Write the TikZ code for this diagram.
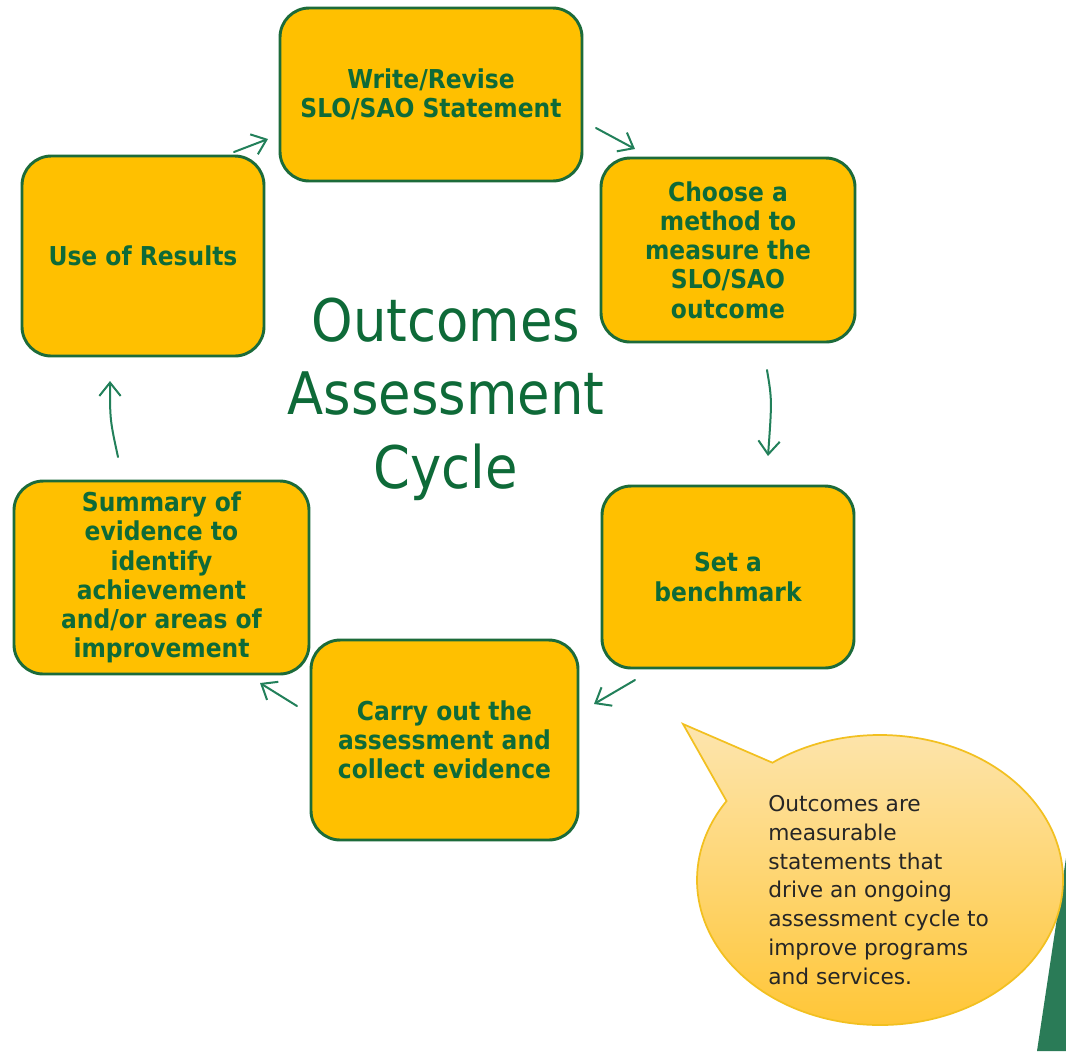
\documentclass[tikz,border=0pt]{standalone}
\usepackage{fontspec}
\setmainfont{DejaVu Sans Condensed}
\newfontfamily\notefont{DejaVu Sans}
\usetikzlibrary{arrows.meta}
\definecolor{boxfill}{HTML}{FFC000}
\definecolor{boxedge}{HTML}{1C6B3A}
\definecolor{txtgreen}{HTML}{0E6A38}
\definecolor{arrgreen}{HTML}{22805A}
\definecolor{darkgreen}{HTML}{2A7B57}
\definecolor{bubtop}{HTML}{FDE6B2}
\definecolor{bubbot}{HTML}{FFC42F}
\definecolor{bubedge}{HTML}{F2C020}
\tikzset{
  stepbox/.style={draw=boxedge, fill=boxfill, line width=2.2pt, rounded corners=22pt,
     align=center, text=txtgreen, font=\bfseries\fontsize{19.5}{21.9}\selectfont},
  cyc/.style={draw=arrgreen, line width=1.5pt, line cap=round,
     -{Straight Barb[length=10pt,width=16pt,line width=1.5pt]}},
}
\begin{document}
\begin{tikzpicture}[x=0.75pt,y=-0.75pt]
\useasboundingbox (0,0) rectangle (1066,1051);
\fill[white] (0,0) rectangle (1066,1051);

% boxes
\node[stepbox, minimum width=226.5pt, minimum height=129.75pt] (b1) at (431,94.5) {Write/Revise\\SLO/SAO Statement};
\node[stepbox, minimum width=190.5pt, minimum height=138pt] (b2) at (728,250) {Choose a\\method to\\measure the\\SLO/SAO\\outcome};
\node[stepbox, minimum width=181.5pt, minimum height=150pt] (b3) at (143,256) {Use of Results};
\node[stepbox, minimum width=189pt, minimum height=136.5pt] (b4) at (728,577) {Set a\\benchmark};
\node[stepbox, minimum width=221.25pt, minimum height=144.75pt] (b5) at (161.5,577.5) {Summary of\\evidence to\\identify\\achievement\\and/or areas of\\improvement};
\node[stepbox, minimum width=200.25pt, minimum height=150pt] (b6) at (444.5,740) {Carry out the\\assessment and\\collect evidence};

% title
\node[text=txtgreen, align=center, font=\fontsize{44}{55}\selectfont] (title) at (446,399) {Outcomes\\Assessment\\Cycle};

% arrow coordinates
\coordinate (a1s) at (234,152); \coordinate (a1e) at (268,139);
\coordinate (a2s) at (596,128); \coordinate (a2e) at (635,149);
\coordinate (a3s) at (767,370); \coordinate (a3e) at (768,456);
\coordinate (a4s) at (635,680); \coordinate (a4e) at (594,704);
\coordinate (a5s) at (297,706); \coordinate (a5e) at (260,683);
\coordinate (a6s) at (118,457); \coordinate (a6e) at (110,381);

\draw[cyc] (a1s) -- (a1e);
\draw[cyc] (a2s) -- (a2e);
\draw[cyc] (a3s) .. controls (772,400) .. (a3e);
\draw[cyc] (a4s) -- (a4e);
\draw[cyc] (a5s) -- (a5e);
\draw[cyc] (a6s) .. controls (110,420) .. (a6e);

% dark green shape at the right edge
\fill[darkgreen] (1037,1051) -- (1066,858) -- (1066,1051) -- cycle;

% speech bubble
\path[draw=bubedge, line width=1.3pt, top color=bubtop, bottom color=bubbot]
  (880,880) ++(234:183 and 145)
  arc[start angle=234, end angle=573, x radius=183, y radius=145]
  -- (683,724) -- cycle;
\node[anchor=north west, align=left, text=black!85, inner sep=0pt,
      font=\notefont\fontsize{16.3}{21.6}\selectfont] (note) at (768,795)
  {Outcomes are\\measurable\\statements that\\drive an ongoing\\assessment cycle to\\improve programs\\and services.};
\end{tikzpicture}
\end{document}
